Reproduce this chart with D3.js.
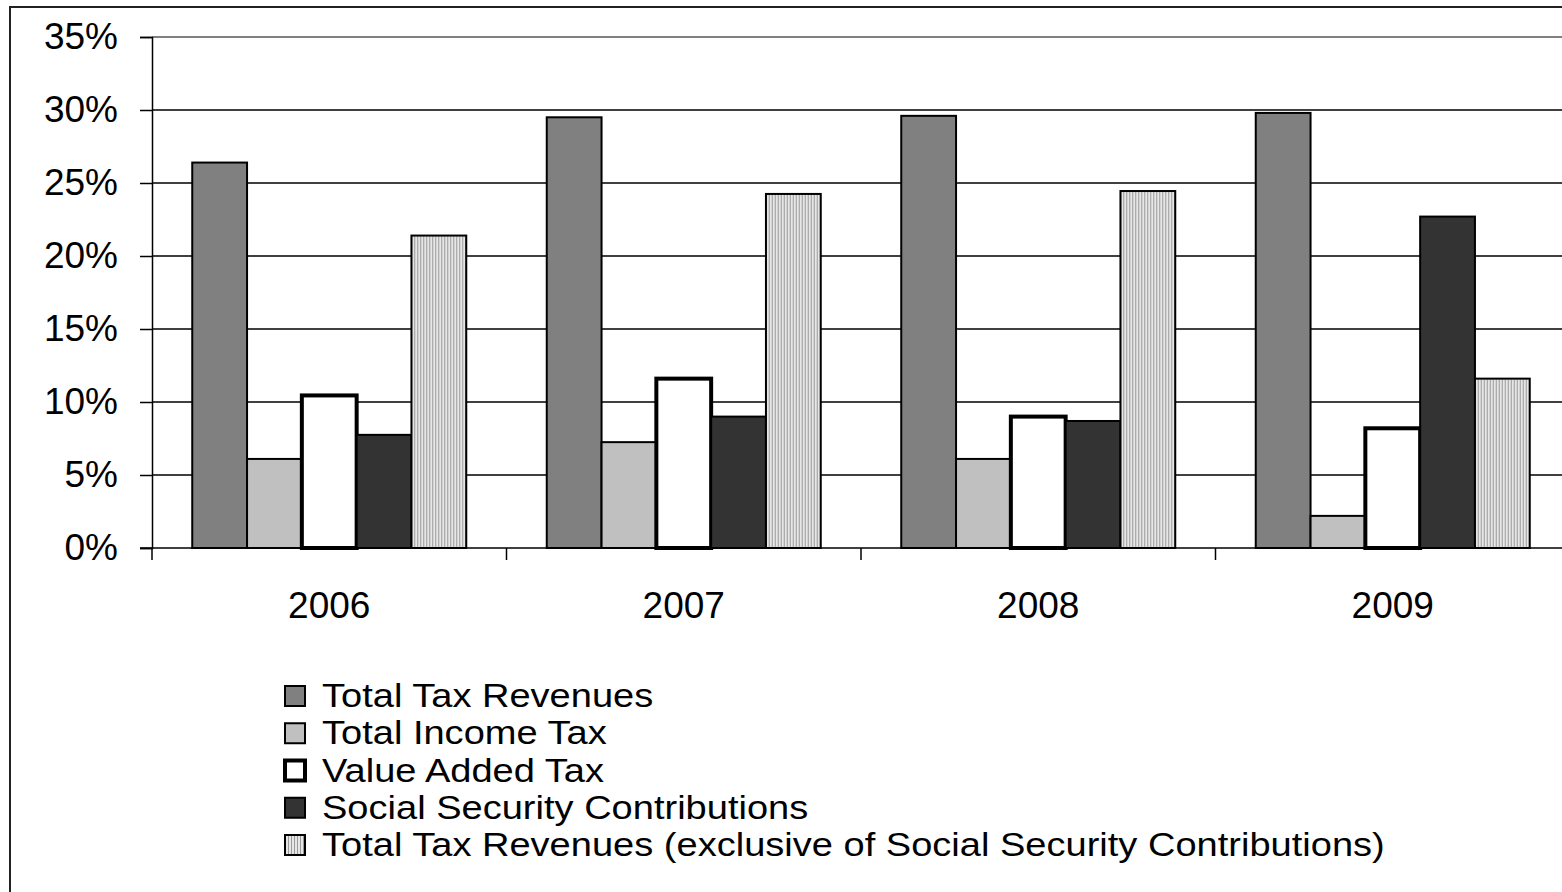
<!DOCTYPE html>
<html>
<head>
<meta charset="utf-8">
<script src="https://cdn.jsdelivr.net/npm/d3@7/dist/d3.min.js"></script>
<style>
  html, body { margin: 0; padding: 0; background: #fff; }
  svg { display: block; font-family: "Liberation Sans", Arial, sans-serif; }
</style>
</head>
<body>
<svg id="chart" width="1562" height="892"></svg>
<script>
// Tax revenue shares by year
const years = ["2006", "2007", "2008", "2009"];
const seriesNames = [
  "Total Tax Revenues",
  "Total Income Tax",
  "Value Added Tax",
  "Social Security Contributions",
  "Total Tax Revenues (exclusive of Social Security Contributions)"
];
const totalTaxRevenues = [26.4, 29.5, 29.6, 29.8];
const totalIncomeTax = [6.1, 7.25, 6.1, 2.2];
const valueAddedTax = [10.45, 11.6, 9.0, 8.2];
const socialSecurity = [7.75, 9.0, 8.7, 22.7];
const totalExclSSC = [21.4, 24.25, 24.45, 11.6];
const yTicks = [0, 5, 10, 15, 20, 25, 30, 35];

const seriesValues = [totalTaxRevenues, totalIncomeTax, valueAddedTax, socialSecurity, totalExclSSC];

const svg = d3.select("#chart");

// per-series look
const fills = ["#808080", "#c0c0c0", "#ffffff", "#333333", "url(#vstripe)"];
const strokeW = [2, 2, 4, 2, 2];

const defs = svg.append("defs");
const pat = defs.append("pattern")
  .attr("id", "vstripe")
  .attr("patternUnits", "userSpaceOnUse")
  .attr("width", 3).attr("height", 10);
pat.append("rect").attr("width", 3).attr("height", 10).attr("fill", "#e6e6e6");
pat.append("rect").attr("width", 1).attr("height", 10).attr("fill", "#9a9a9a");

// outer frame
svg.append("rect")
  .attr("x", 10).attr("y", 7)
  .attr("width", 1600).attr("height", 1000)
  .attr("fill", "none").attr("stroke", "#222").attr("stroke-width", 2);

const plotLeft = 152, plotTop = 37, plotBottom = 548;
const catW = 354.5;

const x = d3.scaleBand().domain(years)
  .range([plotLeft, plotLeft + catW * years.length]).padding(0);
const groupW = 274;
const xInner = d3.scaleBand().domain(d3.range(seriesNames.length))
  .range([0, groupW]).padding(0);
const groupOffset = (catW - groupW) / 2;

const y = d3.scaleLinear().domain([0, 35]).range([plotBottom, plotTop]);

// gridlines
svg.append("g").selectAll("line")
  .data(yTicks.filter(t => t > 0))
  .join("line")
  .attr("x1", plotLeft).attr("x2", 1562)
  .attr("y1", d => y(d)).attr("y2", d => y(d))
  .attr("stroke", d => d === 35 ? "#808080" : "#000")
  .attr("stroke-width", d => d === 35 ? 2 : 1.5);

// y axis
const yAxis = d3.axisLeft(y).tickValues(yTicks)
  .tickFormat(d => d + "%").tickSize(12).tickPadding(22);
const gy = svg.append("g").attr("transform", `translate(${plotLeft},0)`).call(yAxis);
gy.select(".domain").attr("stroke", "#000").attr("stroke-width", 1.5);
gy.selectAll(".tick line").attr("stroke", "#000").attr("stroke-width", 1.5);
gy.selectAll(".tick text").attr("fill", "#000")
  .style("font-size", "37px").style("font-family", "Liberation Sans, Arial, sans-serif");

// bars
const groups = svg.append("g").selectAll("g")
  .data(years)
  .join("g")
  .attr("transform", d => `translate(${x(d) + groupOffset},0)`);

groups.selectAll("rect")
  .data((yr, i) => seriesValues.map((vals, s) => ({ s, v: vals[i] })))
  .join("rect")
  .attr("x", d => xInner(d.s))
  .attr("width", xInner.bandwidth())
  .attr("y", d => y(d.v))
  .attr("height", d => y(0) - y(d.v))
  .attr("fill", d => fills[d.s])
  .attr("stroke", "#000")
  .attr("stroke-width", d => strokeW[d.s]);

// x axis
const xAxis = d3.axisBottom(x).tickSize(0).tickPadding(44);
const gx = svg.append("g").attr("transform", `translate(0,${plotBottom})`).call(xAxis);
gx.select(".domain").remove();
gx.selectAll(".tick text").attr("fill", "#000")
  .style("font-size", "37px").style("font-family", "Liberation Sans, Arial, sans-serif");
svg.append("line")
  .attr("x1", plotLeft - 12).attr("x2", 1562)
  .attr("y1", plotBottom).attr("y2", plotBottom)
  .attr("stroke", "#000").attr("stroke-width", 1.5);
svg.append("g").selectAll("line")
  .data(d3.range(years.length + 1))
  .join("line")
  .attr("x1", i => plotLeft + i * catW).attr("x2", i => plotLeft + i * catW)
  .attr("y1", plotBottom).attr("y2", plotBottom + 12)
  .attr("stroke", "#000").attr("stroke-width", 1.5);

// legend
const legend = svg.append("g").attr("transform", "translate(285,0)");
const rowY = d3.scaleLinear().domain([0, 4]).range([696, 845]);
const items = legend.selectAll("g").data(seriesNames).join("g")
  .attr("transform", (d, i) => `translate(0,${rowY(i)})`);
items.append("rect")
  .attr("x", 0).attr("y", -10).attr("width", 20).attr("height", 20)
  .attr("fill", (d, i) => fills[i])
  .attr("stroke", "#000")
  .attr("stroke-width", (d, i) => i === 2 ? 4 : 2);
const labels = items.append("text")
  .attr("x", 37).attr("y", 11)
  .style("font-size", "32.5px")
  .attr("fill", "#000")
  .text(d => d);

// widen legend text so the longest entry spans its full run
const longest = labels.nodes()[labels.size() - 1];
const targetW = 1063;
const sx = targetW / longest.getComputedTextLength();
labels.attr("transform", `translate(37,0) scale(${sx},1) translate(-37,0)`);
</script>
</body>
</html>
